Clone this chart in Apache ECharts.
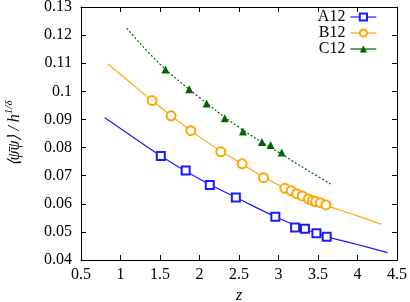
<!DOCTYPE html>
<html><head><meta charset="utf-8">
<script src="https://cdn.jsdelivr.net/npm/echarts@6/dist/echarts.min.js"></script>
<style>html,body{margin:0;padding:0;background:#fff}#c{width:410px;height:302px}</style>
</head><body><div id="c"></div>
<script>
const A12_z = [1.51,1.825,2.13,2.46,2.96,3.21,3.335,3.48,3.61];
const A12_v = [0.0770,0.0718,0.0667,0.0622,0.0554,0.0516,0.0511,0.0495,0.0483];
const B12_z = [1.40,1.64,1.89,2.27,2.54,2.81,3.08,3.16,3.23,3.30,3.38,3.43,3.47,3.53,3.60];
const B12_v = [0.0967,0.0913,0.0860,0.0785,0.0742,0.0693,0.0655,0.0646,0.0636,0.0628,0.0617,0.0611,0.0608,0.0604,0.0596];
const C12_z = [1.57,1.87,2.09,2.32,2.55,2.79,2.90,3.04];
const C12_v = [0.1078,0.1007,0.0957,0.0904,0.0857,0.0820,0.0809,0.0782];
const fitA_z = [0.8,1.0,1.5,2.0,2.5,3.0,3.5,4.0,4.38];
const fitA_v = [0.0906,0.0868,0.0772,0.0688,0.0617,0.0549,0.0493,0.0455,0.0426];
const fitB_z = [0.84,1.0,1.5,2.0,2.5,3.0,3.5,4.0,4.3];
const fitB_v = [0.1097,0.1060,0.0945,0.0838,0.0748,0.0667,0.0605,0.0557,0.0527];
const fitC_z = [1.08,1.5,2.0,2.5,3.0,3.5,3.66];
const fitC_v = [0.1224,0.1097,0.0978,0.0872,0.0783,0.0697,0.0670];
const legendNames = ['A12','B12','C12'];

const zip = (a,b) => a.map((x,i)=>[x,b[i]]);
const FONT = 'Liberation Serif';
const blue = '#1a1aff', orange = '#ffa500', green = '#006400';

const chart = echarts.init(document.getElementById('c'), null, {renderer:'canvas'});
const axisCommon = {
  axisLine:{show:true, onZero:false, lineStyle:{color:'#000', width:1}},
  axisTick:{show:true, inside:true, length:5, lineStyle:{color:'#000'}},
  splitLine:{show:false}
};
chart.setOption({
  animation:false,
  grid:{left:81, right:13, top:7, bottom:42, containLabel:false, outerBoundsMode:'none'},
  legend:{
    data:legendNames, orient:'vertical', right:28, top:4, align:'right',
    itemWidth:26, itemHeight:9, itemGap:0,
    textStyle:{fontFamily:FONT, fontSize:16, color:'#000', padding:[0,0,0,0]},
    lineStyle:{width:1.2, opacity:1}
  },
  xAxis:[
    Object.assign({type:'value', min:0.5, max:4.5, interval:0.5, position:'bottom',
      name:'z', nameLocation:'middle', nameGap:27,
      nameTextStyle:{fontFamily:FONT, fontSize:16, fontStyle:'italic', color:'#000'},
      axisLabel:{fontFamily:FONT, fontSize:16, color:'#000', margin:7}}, axisCommon),
    Object.assign({type:'value', min:0.5, max:4.5, interval:0.5, position:'top',
      axisLabel:{show:false}}, axisCommon)
  ],
  yAxis:[
    Object.assign({type:'value', min:0.04, max:0.13, interval:0.01, position:'left',
      name:'{a|⟨ψ̄ψ⟩ / h}{s|1/δ}', nameLocation:'middle', nameGap:58, nameRotate:90,
      nameTextStyle:{fontFamily:FONT, fontSize:16, color:'#000',
        rich:{a:{fontFamily:FONT, fontSize:16, fontStyle:'italic', color:'#000', verticalAlign:'bottom', lineHeight:19},
              s:{fontFamily:FONT, fontSize:11, fontStyle:'italic', color:'#000', verticalAlign:'top', lineHeight:19}}},
      axisLabel:{fontFamily:FONT, fontSize:16, color:'#000', margin:9}}, axisCommon),
    Object.assign({type:'value', min:0.04, max:0.13, interval:0.01, position:'right',
      axisLabel:{show:false}}, axisCommon)
  ],
  series:[
    {type:'line', data:zip(fitA_z,fitA_v), smooth:0.4, showSymbol:false, lineStyle:{color:blue, width:1.2}, z:1, silent:true},
    {type:'line', data:zip(fitB_z,fitB_v), smooth:0.4, showSymbol:false, lineStyle:{color:orange, width:1.2}, z:1, silent:true},
    {type:'line', data:zip(fitC_z,fitC_v), smooth:0.4, showSymbol:false, lineStyle:{color:green, width:1.2, type:[2,2]}, z:1, silent:true},
    {name:'A12', type:'line', data:zip(A12_z,A12_v), symbol:'emptyRect', symbolSize:8,
      itemStyle:{color:blue, borderColor:blue, borderWidth:1.2}, lineStyle:{color:blue, width:1, opacity:0}, z:3},
    {name:'B12', type:'line', data:zip(B12_z,B12_v), symbol:'emptyCircle', symbolSize:9,
      itemStyle:{color:orange, borderColor:orange, borderWidth:1.2}, lineStyle:{color:orange, width:1, opacity:0}, z:3},
    {name:'C12', type:'line', data:zip(C12_z,C12_v), symbol:'triangle', symbolSize:8,
      itemStyle:{color:green}, lineStyle:{color:green, width:1, opacity:0}, z:3}
  ]
});
</script></body></html>
